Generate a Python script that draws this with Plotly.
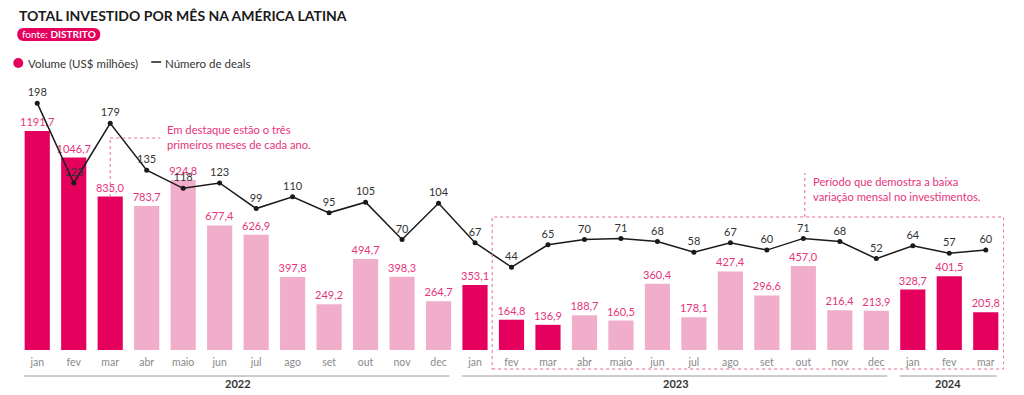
import plotly.graph_objects as go

# ---- data ----
months = ["jan", "fev", "mar", "abr", "maio", "jun", "jul", "ago", "set", "out", "nov", "dec",
          "jan", "fev", "mar", "abr", "maio", "jun", "jul", "ago", "set", "out", "nov", "dec",
          "jan", "fev", "mar"]
volume = [1191.7, 1046.7, 835.0, 783.7, 924.8, 677.4, 626.9, 397.8, 249.2, 494.7, 398.3, 264.7,
          353.1, 164.8, 136.9, 188.7, 160.5, 360.4, 178.1, 427.4, 296.6, 457.0, 216.4, 213.9,
          328.7, 401.5, 205.8]
deals = [198, 123, 179, 135, 118, 123, 99, 110, 95, 105, 70, 104,
         67, 44, 65, 70, 71, 68, 58, 67, 60, 71, 68, 52,
         64, 57, 60]
highlight = [1, 1, 1, 0, 0, 0, 0, 0, 0, 0, 0, 0,
             1, 1, 1, 0, 0, 0, 0, 0, 0, 0, 0, 0,
             1, 1, 1]
years = ["2022", "2023", "2024"]

DARK = "#E5005E"
LIGHT = "#F1AECA"
PINK_TXT = "#E6347C"
FONT = "Lato"

W, H = 1024, 395
L, R, T, B = 18.75, 20, 85, 45
pw, ph = W - L - R, H - T - B


def px(x):
    return (x - L) / pw


def py(y):
    return (H - B - y) / ph


x = list(range(len(months)))
colors = [DARK if h else LIGHT for h in highlight]
vol_text = [f"{v:.1f}".replace(".", ",") for v in volume]

fig = go.Figure()
fig.add_trace(go.Bar(
    x=x, y=volume, marker=dict(color=colors, line=dict(width=0)), width=0.69,
    text=vol_text, textposition="outside", cliponaxis=False, constraintext="none",
    textfont=dict(color=PINK_TXT, size=11, family=FONT), hoverinfo="skip",
))
fig.add_trace(go.Scatter(
    x=x, y=deals, yaxis="y2", mode="lines+markers+text",
    line=dict(color="#1a1a1a", width=1.5), marker=dict(color="#1a1a1a", size=5),
    text=[str(d) for d in deals], textposition="top center",
    textfont=dict(color="#333333", size=11, family=FONT), cliponaxis=False,
))

shapes = []
annotations = []

# year separators
year_spans = [(-0.36, 11.3, 5.5), (11.64, 23.3, 17.5), (23.64, 26.3, 24.97)]
for (x0, x1, xc), yr in zip(year_spans, years):
    shapes.append(dict(type="line", xref="x", yref="paper", x0=x0, x1=x1,
                       y0=py(376), y1=py(376), line=dict(color="#9a9a9a", width=1)))
    annotations.append(dict(xref="x", yref="paper", x=xc, y=py(383), text=f"<b>{yr}</b>",
                            showarrow=False, font=dict(size=11, color="#333333", family=FONT),
                            yanchor="middle"))

# annotation 1: first three months
dot = dict(color="#E8699C", width=1, dash="dot")
shapes.append(dict(type="line", xref="x", yref="paper", x0=2, x1=2, y0=py(197), y1=py(138), line=dot))
shapes.append(dict(type="line", xref="x", yref="paper", x0=2, x1=3.37, y0=py(138), y1=py(138), line=dot))
annotations.append(dict(xref="x", yref="paper", x=3.5, y=py(136.5), xanchor="left", yanchor="middle",
                        align="left", showarrow=False,
                        text="Em destaque estão o três<br>primeiros meses de cada ano.",
                        font=dict(size=11.2, color=PINK_TXT, family=FONT)))

# annotation 2: low variation period
shapes.append(dict(type="rect", xref="x", yref="paper", x0=12.47, x1=26.49, y0=py(369), y1=py(217),
                   line=dot, fillcolor="rgba(0,0,0,0)"))
shapes.append(dict(type="line", xref="x", yref="paper", x0=21.04, x1=21.04, y0=py(217), y1=py(173), line=dot))
annotations.append(dict(xref="x", yref="paper", x=21.2, y=py(189), xanchor="left", yanchor="middle",
                        align="left", showarrow=False,
                        text="Período que demostra a baixa<br>variação mensal no investimentos.",
                        font=dict(size=11.2, color=PINK_TXT, family=FONT)))

# title
annotations.append(dict(xref="paper", yref="paper", x=px(17), y=py(15), xanchor="left", yanchor="middle",
                        showarrow=False, text="<b>TOTAL INVESTIDO POR MÊS NA AMÉRICA LATINA</b>",
                        font=dict(size=14, color="#1a1a1a", family=FONT)))

# badge
bx0, bx1, by0, by1, r = 17, 100, 28, 41, 6.5
path = (f"M {px(bx0 + r)} {py(by0)} L {px(bx1 - r)} {py(by0)} "
        f"Q {px(bx1)} {py(by0)} {px(bx1)} {py((by0 + by1) / 2)} "
        f"Q {px(bx1)} {py(by1)} {px(bx1 - r)} {py(by1)} "
        f"L {px(bx0 + r)} {py(by1)} "
        f"Q {px(bx0)} {py(by1)} {px(bx0)} {py((by0 + by1) / 2)} "
        f"Q {px(bx0)} {py(by0)} {px(bx0 + r)} {py(by0)} Z")
shapes.append(dict(type="path", xref="paper", yref="paper", path=path, fillcolor=DARK, line=dict(width=0)))
annotations.append(dict(xref="paper", yref="paper", x=px((bx0 + bx1) / 2), y=py(34.5),
                        xanchor="center", yanchor="middle", showarrow=False,
                        text="fonte: <b>DISTRITO</b>", font=dict(size=10, color="white", family=FONT)))

# legend
shapes.append(dict(type="circle", xref="paper", yref="paper", x0=px(13), x1=px(23), y0=py(58), y1=py(68),
                   fillcolor=DARK, line=dict(width=0)))
annotations.append(dict(xref="paper", yref="paper", x=px(26), y=py(63), xanchor="left", yanchor="middle",
                        showarrow=False, text="Volume (US$ milhões)",
                        font=dict(size=11.5, color="#333333", family=FONT)))
shapes.append(dict(type="line", xref="paper", yref="paper", x0=px(151), x1=px(161), y0=py(62), y1=py(62),
                   line=dict(color="#1a1a1a", width=1.5)))
annotations.append(dict(xref="paper", yref="paper", x=px(163), y=py(63), xanchor="left", yanchor="middle",
                        showarrow=False, text="Número de deals",
                        font=dict(size=11.5, color="#333333", family=FONT)))

fig.update_layout(
    width=W, height=H,
    margin=dict(l=L, r=R, t=T, b=B),
    paper_bgcolor="white", plot_bgcolor="white",
    showlegend=False, bargap=0.3,
    font=dict(family=FONT),
    xaxis=dict(range=[-0.5, 26.5], tickmode="array", tickvals=x, ticktext=months,
               showgrid=False, zeroline=False, showline=False, ticks="", ticklabelstandoff=4,
               tickfont=dict(size=10.5, color="#8a8a8a", family=FONT), fixedrange=True),
    yaxis=dict(range=[0, ph / 0.1838], visible=False, showgrid=False, fixedrange=True),
    yaxis2=dict(range=[(314 - (H - B)) / 1.065, (314 - T) / 1.065], overlaying="y", visible=False,
                showgrid=False, fixedrange=True),
    shapes=shapes, annotations=annotations,
)

fig.write_html("out.html", config={"displayModeBar": False},
               post_script="document.body.style.margin='0';document.body.style.padding='0';"
                           "document.documentElement.style.overflow='hidden';")
